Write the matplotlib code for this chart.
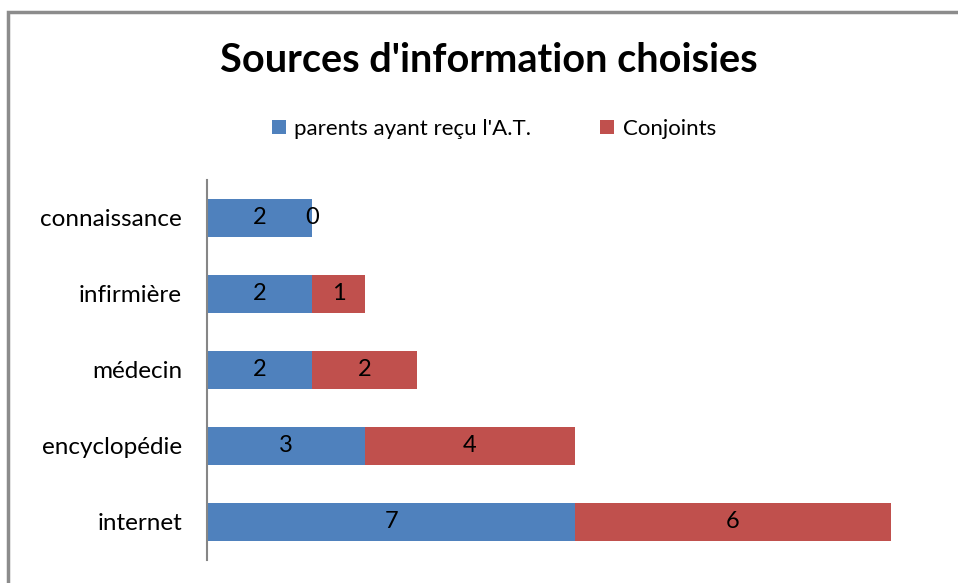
import matplotlib
matplotlib.use("Agg")
import matplotlib.pyplot as plt
from matplotlib.patches import Rectangle

categories = ["internet", "encyclopédie", "médecin", "infirmière", "connaissance"]
parents = [7, 3, 2, 2, 2]
conjoints = [6, 4, 2, 1, 0]
series_names = ["parents ayant reçu l'A.T.", "Conjoints"]
colors = ["#4F81BD", "#C0504D"]

plt.rcParams['font.family'] = ['Lato', 'DejaVu Sans']

W, H = 958, 583
fig = plt.figure(figsize=(W / 100, H / 100), dpi=100)
fig.patch.set_facecolor("white")

# outer chart border
fig.patches.append(Rectangle((8 / W, -0.1), 1.2, 1.1 - 12 / H, transform=fig.transFigure,
                             fill=False, edgecolor="#8c8c8c", linewidth=2.5))

ax = fig.add_axes([207 / W, 1 - 560 / H, (930 - 207) / W, 380 / H])
y = range(len(categories))
b1 = ax.barh(y, parents, height=0.5, color=colors[0], label=series_names[0])
b2 = ax.barh(y, conjoints, left=parents, height=0.5, color=colors[1], label=series_names[1])

for bars, vals in ((b1, parents), (b2, conjoints)):
    for rect, v in zip(bars, vals):
        cx = rect.get_x() + rect.get_width() / 2
        cy = rect.get_y() + rect.get_height() / 2
        ax.text(cx, cy, str(v), ha="center", va="center", fontsize=17, color="black")

ax.set_xlim(0, (930 - 207) / 52.6)
ax.set_ylim(-0.5, len(categories) - 0.5)
ax.set_yticks(list(y))
ax.set_yticklabels(categories, fontsize=17.5)
ax.tick_params(axis="y", length=0, pad=18)
ax.set_xticks([])
for s in ["top", "right", "bottom"]:
    ax.spines[s].set_visible(False)
ax.spines["left"].set_color("#868686")
ax.spines["left"].set_linewidth(1.5)

fig.text(489 / W, 1 - 61 / H, "Sources d'information choisies", ha="center", va="center",
         fontsize=28.5, fontweight="bold")

fig.legend(handles=[b1, b2], labels=series_names, loc="center", bbox_to_anchor=(494 / W, 1 - 129 / H),
           ncol=2, frameon=False, fontsize=16, handlelength=0.6, handleheight=0.6,
           handletextpad=0.4, columnspacing=3.1)

fig.savefig("out.png", dpi=100)
